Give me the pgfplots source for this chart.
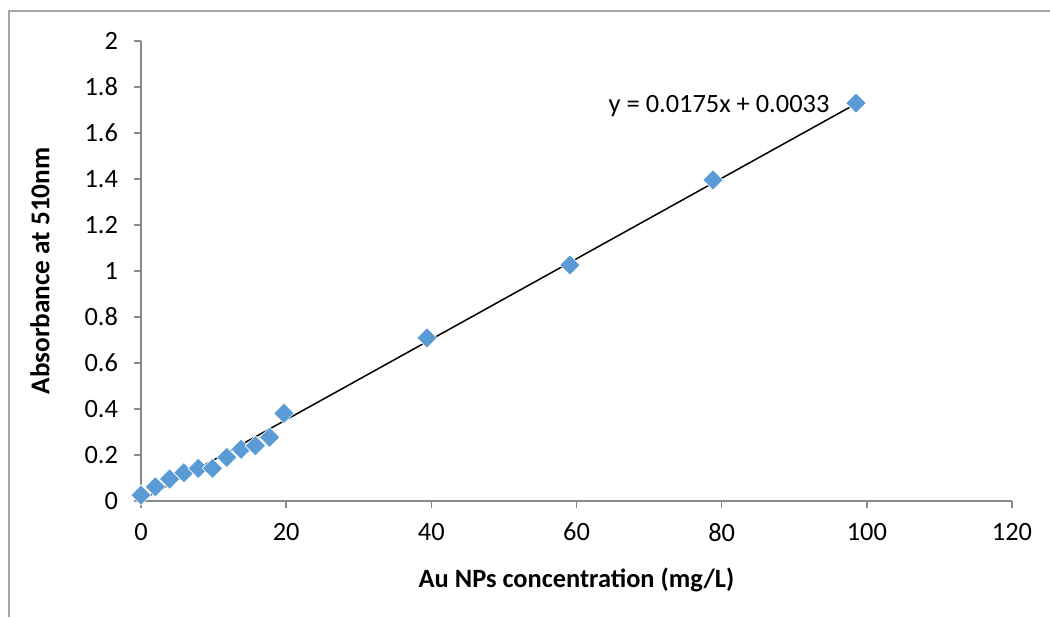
\documentclass[border=0pt]{standalone}
\usepackage{fontspec}
\setmainfont{Carlito}
\usepackage{pgfplots}
\pgfplotsset{compat=1.18}

\definecolor{xlblue}{HTML}{5B9BD5}
\definecolor{axgray}{HTML}{898989}
\definecolor{framegray}{HTML}{A6A6A6}

\begin{document}
\begin{tikzpicture}
% page is 1050x617 px at 0.5pt per px
\useasboundingbox (0,0) rectangle (525pt,308.5pt);
\draw[framegray, line width=0.6pt] (4.5pt,0) -- (4.5pt,303pt) -- (525pt,303pt);

\begin{axis}[
    at={(70.5pt,58pt)}, anchor=south west,
    scale only axis, width=435.5pt, height=230pt,
    xmin=0, xmax=120, ymin=0, ymax=2,
    xtick={0,20,...,120}, ytick={0,0.2,...,2},
    axis lines*=left,
    axis line style={axgray, line width=0.75pt},
    tick align=outside, major tick length=3.5pt,
    tick style={axgray, line width=0.75pt},
    font=\fontsize{13.2}{15}\selectfont,
    /pgf/number format/assume math mode=true,
    /pgf/number format/fixed,
    /pgf/number format/precision=1,
    xticklabel style={yshift=-4pt},
    yticklabel style={xshift=-4.5pt},
    xlabel={\bfseries Au NPs concentration (mg/L)},
    ylabel={\fontsize{13.6}{15}\selectfont\bfseries Absorbance at 510nm},
    xlabel style={at={(axis description cs:0.5,-0.187)}, anchor=base, inner sep=0pt},
    ylabel style={at={(axis description cs:-0.116,0.5)}, anchor=center, inner sep=0pt},
    clip=false,
]
\addplot[only marks, mark=square*, mark size=3.6pt,
         mark options={rotate=45, fill=xlblue, draw=white, line width=0.3pt}]
  coordinates {
    (0,0.026) (1.97,0.062) (3.94,0.096) (5.91,0.123) (7.88,0.142)
    (9.85,0.142) (11.82,0.190) (13.79,0.225) (15.76,0.240) (17.73,0.277)
    (19.7,0.381) (39.4,0.709) (59.1,1.026) (78.8,1.396) (98.5,1.730)
  };
% linear trendline y = 0.0175x + 0.0033
\addplot[black, line width=0.75pt] coordinates {(0,0.0033) (98.5,1.7271)};
\node[anchor=base east, inner sep=0pt] at (axis cs:94.9,1.687) {y = 0.0175x + 0.0033};
\end{axis}
\end{tikzpicture}
\end{document}
